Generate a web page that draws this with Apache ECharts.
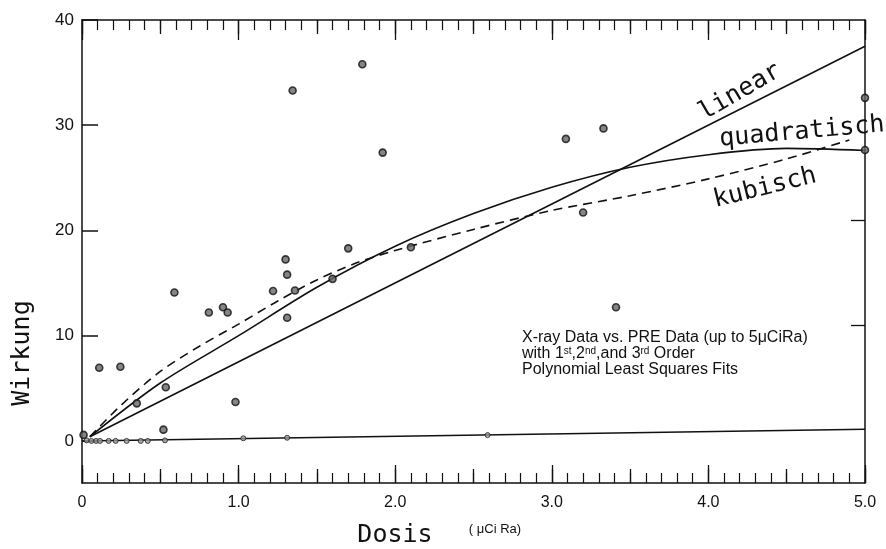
<!DOCTYPE html>
<html lang="de">
<head>
<meta charset="UTF-8">
<title>Wirkung vs. Dosis</title>
<style>
    body {
        margin: 0;
        padding: 0;
        background: #fff;
    }
    #chart {
        width: 886px;
        height: 549px;
    }
</style>
</head>
<body>
<script src="https://cdn.jsdelivr.net/npm/echarts/dist/echarts.min.js"></script>
<div id="chart"></div>
<script>
// X-ray Daten (Punkte)
var xrayDose   = [0.01, 0.11, 0.245, 0.35, 0.52, 0.535, 0.59, 0.81, 0.90, 0.93, 0.98, 1.22, 1.30, 1.31, 1.31, 1.36, 1.345, 1.60, 1.70, 1.79, 1.92, 2.10, 3.09, 3.20, 3.33, 3.41, 5.0, 5.0];
var xrayEffect = [0.57, 6.95, 7.05, 3.57, 1.07, 5.1, 14.1, 12.2, 12.7, 12.2, 3.7, 14.25, 17.25, 15.8, 11.7, 14.3, 33.3, 15.4, 18.3, 35.8, 27.4, 18.4, 28.7, 21.7, 29.7, 12.7, 32.6, 27.65];

// PRE Daten (nahe Null)
var preDose   = [0.03, 0.06, 0.09, 0.115, 0.17, 0.215, 0.285, 0.375, 0.42, 0.53, 1.03, 1.31, 2.59];
var preEffect = [0.05, 0, 0, 0, 0, 0, 0, 0, 0, 0.05, 0.25, 0.3, 0.55];
var preLineDose   = [0, 5];
var preLineEffect = [0, 1.1];

// Fits
var linearDose   = [0.05, 5.0];
var linearEffect = [0.4, 37.5];
var quadDose   = [0.05, 0.5, 1.0, 1.5, 2.0, 2.5, 3.0, 3.5, 4.0, 4.5, 5.0];
var quadEffect = [0.4, 5.5, 10.0, 14.6, 18.5, 21.6, 24.1, 26.0, 27.2, 27.8, 27.6];
var cubicDose   = [0.05, 0.25, 0.5, 0.75, 1.0, 1.25, 1.5, 1.75, 2.0, 2.5, 3.0, 3.5, 4.0, 4.5, 4.9];
var cubicEffect = [0.4, 3.4, 6.6, 9.0, 11.1, 13.3, 15.3, 16.9, 18.1, 20.1, 21.9, 23.3, 24.9, 26.8, 28.6];

var yTicks = [0, 10, 20, 30, 40];
var yTicksRight = [11, 21];

function pairs(xs, ys) {
    return xs.map(function (x, i) { return [x, ys[i]]; });
}

var ink = '#111';
var axisLine = { show: true, onZero: false, lineStyle: { color: ink, width: 1.5 } };
var noLine = { show: false, onZero: false };
var mono = 'DejaVu Sans Mono';
var sans = 'Liberation Sans';

var myChart = echarts.init(document.getElementById('chart'));

var option = {
    backgroundColor: '#fff',
    animation: false,
    grid: { left: 82, right: 21, top: 20, bottom: 66 },
    xAxis: [
        {
            type: 'value', min: 0, max: 5, interval: 1, position: 'bottom',
            axisLine: axisLine,
            axisTick: { inside: true, length: 18, lineStyle: { color: ink, width: 1.3 } },
            minorTick: { show: true, splitNumber: 10, length: 10, lineStyle: { color: ink, width: 1.2 } },
            axisLabel: {
                margin: 12, color: ink, fontFamily: sans, fontSize: 16,
                formatter: function (v) { return v === 0 ? '0' : v.toFixed(1); }
            },
            splitLine: { show: false }
        },
        {
            type: 'value', min: 0, max: 5, interval: 0.5, position: 'bottom',
            axisLine: noLine,
            axisTick: { inside: true, length: 14, lineStyle: { color: ink, width: 1.3 } },
            axisLabel: { show: false },
            splitLine: { show: false }
        },
        {
            type: 'value', min: 0, max: 5, interval: 1, position: 'top',
            axisLine: axisLine,
            axisTick: { inside: true, length: 20, lineStyle: { color: ink, width: 1.3 } },
            minorTick: { show: true, splitNumber: 10, length: 10, lineStyle: { color: ink, width: 1.2 } },
            axisLabel: { show: false },
            splitLine: { show: false }
        },
        {
            type: 'value', min: 0, max: 5, interval: 0.5, position: 'top',
            axisLine: noLine,
            axisTick: { inside: true, length: 14, lineStyle: { color: ink, width: 1.3 } },
            axisLabel: { show: false },
            splitLine: { show: false }
        }
    ],
    yAxis: [
        {
            type: 'value', min: -4, max: 40, position: 'left',
            axisLine: axisLine,
            axisTick: { inside: true, length: 16, customValues: yTicks, lineStyle: { color: ink, width: 1.5 } },
            axisLabel: { customValues: yTicks, margin: 8, color: ink, fontFamily: sans, fontSize: 17 },
            splitLine: { show: false }
        },
        {
            type: 'value', min: -4, max: 40, position: 'right',
            axisLine: axisLine,
            axisTick: { inside: true, length: 14, customValues: yTicksRight, lineStyle: { color: ink, width: 1.3 } },
            axisLabel: { show: false },
            splitLine: { show: false }
        }
    ],
    series: [
        {
            name: 'PRE', type: 'line', data: pairs(preLineDose, preLineEffect),
            showSymbol: false, lineStyle: { color: ink, width: 1.5 }, z: 2
        },
        {
            name: 'linear', type: 'line', data: pairs(linearDose, linearEffect),
            showSymbol: false, lineStyle: { color: ink, width: 1.6 }, z: 2
        },
        {
            name: 'quadratisch', type: 'line', data: pairs(quadDose, quadEffect),
            smooth: 0.3, showSymbol: false, lineStyle: { color: ink, width: 1.6 }, z: 2
        },
        {
            name: 'kubisch', type: 'line', data: pairs(cubicDose, cubicEffect),
            smooth: 0.3, showSymbol: false, lineStyle: { color: ink, width: 1.6, type: [9, 6] }, z: 2
        },
        {
            name: 'PRE Data', type: 'scatter', data: pairs(preDose, preEffect),
            symbolSize: 5, itemStyle: { color: '#999', borderColor: '#222', borderWidth: 1 }, z: 3
        },
        {
            name: 'X-ray Data', type: 'scatter', data: pairs(xrayDose, xrayEffect),
            symbolSize: 7, itemStyle: { color: '#666', borderColor: '#111', borderWidth: 1.6 }, z: 3
        }
    ],
    graphic: [
        {
            type: 'text', x: 22, y: 353, rotation: Math.PI / 2,
            style: { text: 'Wirkung', fontFamily: mono, fontSize: 25, fill: ink, align: 'center', verticalAlign: 'middle', textAlign: 'center', textVerticalAlign: 'middle' }
        },
        {
            type: 'text', x: 395, y: 535,
            style: { text: 'Dosis', fontFamily: mono, fontSize: 25, fill: ink, align: 'center', verticalAlign: 'middle', textAlign: 'center', textVerticalAlign: 'middle' }
        },
        {
            type: 'text', x: 495, y: 529,
            style: { text: '( \u03bcCi Ra)', fontFamily: sans, fontSize: 13, fill: ink, align: 'center', verticalAlign: 'middle', textAlign: 'center', textVerticalAlign: 'middle' }
        },
        {
            type: 'text', x: 740, y: 92, rotation: 30 * Math.PI / 180,
            style: { text: 'linear', fontFamily: mono, fontSize: 25, fill: ink, align: 'center', verticalAlign: 'middle', textAlign: 'center', textVerticalAlign: 'middle' }
        },
        {
            type: 'text', x: 802, y: 132, rotation: 5 * Math.PI / 180,
            style: { text: 'quadratisch', fontFamily: mono, fontSize: 25, fill: ink, align: 'center', verticalAlign: 'middle', textAlign: 'center', textVerticalAlign: 'middle' }
        },
        {
            type: 'text', x: 765, y: 188, rotation: 14 * Math.PI / 180,
            style: { text: 'kubisch', fontFamily: mono, fontSize: 25, fill: ink, align: 'center', verticalAlign: 'middle', textAlign: 'center', textVerticalAlign: 'middle' }
        },
        {
            type: 'text', x: 522, y: 330,
            style: {
                text: 'X-ray Data vs. PRE Data (up to 5\u03bcCiRa)\nwith 1{sup|st},2{sup|nd},and 3{sup|rd} Order\nPolynomial Least Squares Fits',
                fontFamily: sans, fontSize: 16, lineHeight: 16, fill: ink,
                rich: { sup: { fontSize: 10, fontFamily: sans, verticalAlign: 'top', fill: ink } }
            }
        }
    ]
};

myChart.setOption(option);
</script>
</body>
</html>
